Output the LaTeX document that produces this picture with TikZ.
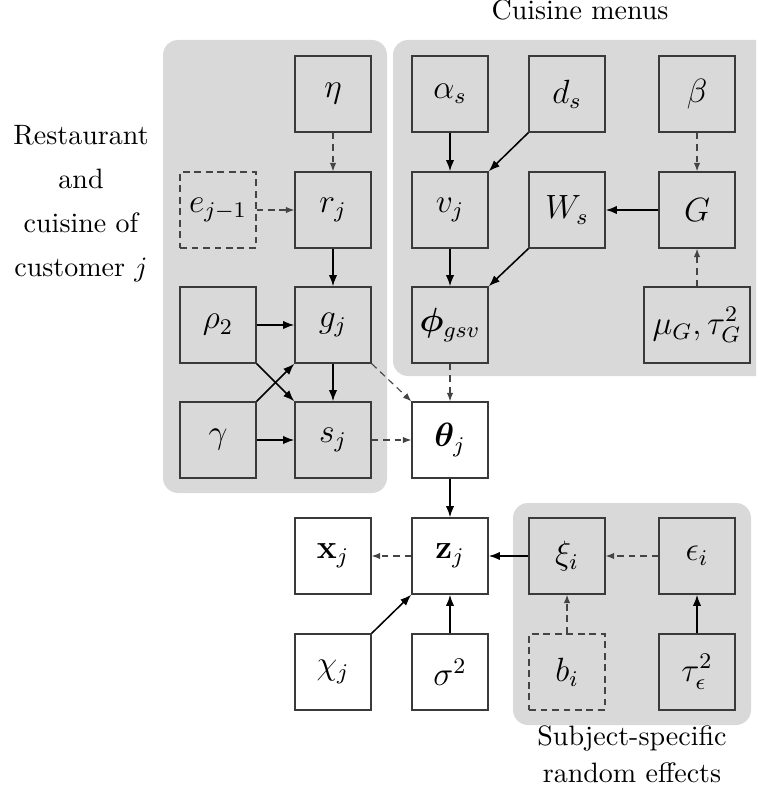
\documentclass[tikz,border=0pt]{standalone}
\usepackage{amsmath}
\usepackage{bm}
\usetikzlibrary{arrows.meta}
\definecolor{bggray}{HTML}{D9D9D9}
\definecolor{boxline}{HTML}{3A3A3A}
\definecolor{dashline}{HTML}{444444}
\tikzset{
  vbox/.style={draw=boxline, line width=0.55pt, fill=bggray, minimum width=27.1pt, minimum height=27.1pt, inner sep=1pt, font=\large},
  wbox/.style={vbox, fill=white},
  dbox/.style={vbox, draw=dashline, line width=0.4pt, dash pattern=on 2.4pt off 1.7pt},
  solidarr/.style={draw=black, line width=0.55pt, -{Latex[length=4pt,width=3pt]}},
  dasharr/.style={draw=dashline, line width=0.4pt, dash pattern=on 2.4pt off 1.7pt, -{Latex[length=3pt,width=2.3pt]}},
  panel/.style={fill=bggray, rounded corners=5.4pt},
  lbl/.style={inner sep=0pt, align=center}
}
\begin{document}
\begin{tikzpicture}[x=0.357pt, y=-0.357pt]
\useasboundingbox (0,0) rectangle (756,797);
\begin{scope}
\clip (0,0) rectangle (756,797);
\fill[panel] (163,40) rectangle (387,493);
\fill[panel] (393,40) rectangle (775,376);
\fill[panel] (513,503) rectangle (751,725);
\end{scope}

% left panel
\node[vbox] (eta) at (333,94) {$\eta$};
\node[vbox] (r) at (333,210) {$r_j$};
\node[dbox] (e) at (218,210) {$e_{j-1}$};
\node[vbox] (rho) at (218,325) {$\rho_2$};
\node[vbox] (g) at (333,325) {$g_j$};
\node[vbox] (gam) at (218,440) {$\gamma$};
\node[vbox] (s) at (333,440) {$s_j$};

% top right panel
\node[vbox] (alpha) at (450,94) {$\alpha_s$};
\node[vbox] (d) at (567,94) {$d_s$};
\node[vbox] (beta) at (697,94) {$\beta$};
\node[vbox] (v) at (450,210) {$v_j$};
\node[vbox] (W) at (567,210) {$W_s$};
\node[vbox] (G) at (697,210) {$G$};
\node[vbox] (phi) at (450,325) {$\bm{\phi}_{gsv}$};
\node[vbox, minimum width=37.8pt] (mu) at (697,325) {$\mu_G,\tau_G^2$};

% centre
\node[wbox] (theta) at (450,440) {$\bm{\theta}_j$};
\node[wbox] (x) at (333,556) {$\mathbf{x}_j$};
\node[wbox] (z) at (450,556) {$\mathbf{z}_j$};
\node[wbox] (chi) at (333,672) {$\chi_j$};
\node[wbox] (sig) at (450,672) {$\sigma^2$};

% bottom right panel
\node[vbox] (xi) at (567,556) {$\xi_i$};
\node[vbox] (eps) at (697,556) {$\epsilon_i$};
\node[dbox] (b) at (567,672) {$b_i$};
\node[vbox] (tau) at (697,672) {$\tau_\epsilon^2$};

% labels
\node[lbl, anchor=base] (lcm) at (580,20) {Cuisine menus};
\node[lbl, font=\fontsize{10}{15.7}\selectfont] (lrc) at (81,204) {Restaurant\\and\\cuisine of\\customer $j$};
\node[lbl, font=\fontsize{10}{13.2}\selectfont] (lsr) at (632,754) {Subject-specific\\random effects};

% connectors
\draw[dasharr] (eta) -- (r);
\draw[dasharr] (e) -- (r);
\draw[solidarr] (r) -- (g);
\draw[solidarr] (rho) -- (g);
\draw[solidarr] (rho.south east) -- (s.north west);
\draw[solidarr] (gam.north east) -- (g.south west);
\draw[solidarr] (gam) -- (s);
\draw[solidarr] (g) -- (s);
\draw[dasharr] (g.south east) -- (theta.north west);
\draw[dasharr] (s) -- (theta);
\draw[dasharr] (phi) -- (theta);
\draw[solidarr] (alpha) -- (v);
\draw[solidarr] (d.south west) -- (v.north east);
\draw[solidarr] (v) -- (phi);
\draw[solidarr] (W.south west) -- (phi.north east);
\draw[solidarr] (G) -- (W);
\draw[dasharr] (beta) -- (G);
\draw[dasharr] (mu) -- (G);
\draw[solidarr] (theta) -- (z);
\draw[dasharr] (z) -- (x);
\draw[solidarr] (xi) -- (z);
\draw[dasharr] (eps) -- (xi);
\draw[dasharr] (b) -- (xi);
\draw[solidarr] (tau) -- (eps);
\draw[solidarr] (sig) -- (z);
\draw[solidarr] (chi.north east) -- (z.south west);
\end{tikzpicture}
\end{document}
